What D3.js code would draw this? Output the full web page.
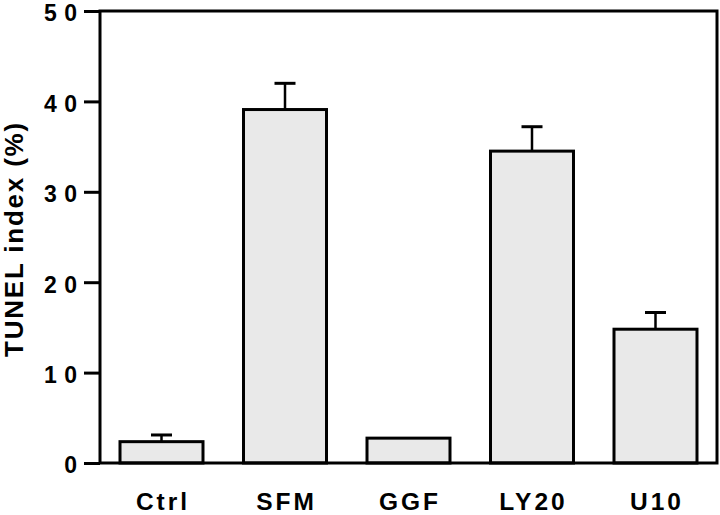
<!DOCTYPE html>
<html>
<head>
<meta charset="utf-8">
<script src="https://cdn.jsdelivr.net/npm/d3@7"></script>
<style>
  html, body { margin: 0; padding: 0; background: #fff; }
  svg { display: block; }
  text { font-family: "Liberation Sans", Arial, Helvetica, sans-serif; font-weight: bold; fill: #000; }
</style>
</head>
<body>
<svg id="chart" width="720" height="515"></svg>
<script>
const categories = ["Ctrl", "SFM", "GGF", "LY20", "U10"];
const values = [2.36, 39.1, 2.75, 34.5, 14.8];
const errors = [0.74, 2.9, 0, 2.7, 1.85];
const yTicks = [0, 10, 20, 30, 40, 50];
const yTitle = "TUNEL index (%)";

const svg = d3.select("#chart");
const pLeft = 100, pRight = 717, pTop = 11, pBottom = 463;

const x = d3.scaleBand().domain(categories).range([pLeft, pRight])
  .paddingInner(0.328).paddingOuter(0.162);
const y = d3.scaleLinear().domain([0, 50]).range([pBottom, pTop]);

const data = categories.map((c, i) => ({ c, v: values[i], e: errors[i] }));

// bars
svg.append("g").selectAll("rect").data(data).join("rect")
  .attr("x", d => x(d.c))
  .attr("y", d => y(d.v))
  .attr("width", x.bandwidth())
  .attr("height", d => y(0) - y(d.v))
  .attr("fill", "#e9e9e9")
  .attr("stroke", "#000")
  .attr("stroke-width", 3);

// error bars
const eb = svg.append("g").selectAll("g").data(data.filter(d => d.e > 0)).join("g");
eb.append("line")
  .attr("x1", d => x(d.c) + x.bandwidth() / 2)
  .attr("x2", d => x(d.c) + x.bandwidth() / 2)
  .attr("y1", d => y(d.v))
  .attr("y2", d => y(d.v + d.e))
  .attr("stroke", "#000").attr("stroke-width", 2.5);
eb.append("line")
  .attr("x1", d => x(d.c) + x.bandwidth() / 2 - 10.5)
  .attr("x2", d => x(d.c) + x.bandwidth() / 2 + 10.5)
  .attr("y1", d => y(d.v + d.e))
  .attr("y2", d => y(d.v + d.e))
  .attr("stroke", "#000").attr("stroke-width", 3);

// frame
svg.append("rect")
  .attr("x", pLeft).attr("y", pTop)
  .attr("width", pRight - pLeft).attr("height", pBottom - pTop)
  .attr("fill", "none").attr("stroke", "#000").attr("stroke-width", 3);

// y axis
const yAxis = svg.append("g")
  .attr("transform", `translate(${pLeft},0)`)
  .call(d3.axisLeft(y).tickValues(yTicks).tickSize(16).tickPadding(7).tickFormat(d3.format("d")));
yAxis.select(".domain").remove();
yAxis.selectAll(".tick line").attr("stroke", "#000").attr("stroke-width", 3);
yAxis.selectAll(".tick text")
  .attr("font-size", 23)
  .attr("font-family", "Liberation Sans, Arial, sans-serif")
  .attr("font-weight", "bold")
  .attr("fill", "#000")
  .attr("letter-spacing", 7.5)
  .attr("dx", 7.5)
  .attr("dy", "0.43em");

// x labels
svg.append("g").selectAll("text").data(categories).join("text")
  .attr("x", d => x(d) + x.bandwidth() / 2 + 1.5)
  .attr("y", 510)
  .attr("text-anchor", "middle")
  .attr("font-size", 24.5)
  .attr("letter-spacing", 3)
  .text(d => d);

// y title
svg.append("text")
  .attr("transform", `translate(${23},${(pTop + pBottom) / 2 + 2}) rotate(-90)`)
  .attr("text-anchor", "middle")
  .attr("font-size", 26)
  .attr("letter-spacing", 1.8)
  .text(yTitle);
</script>
</body>
</html>
